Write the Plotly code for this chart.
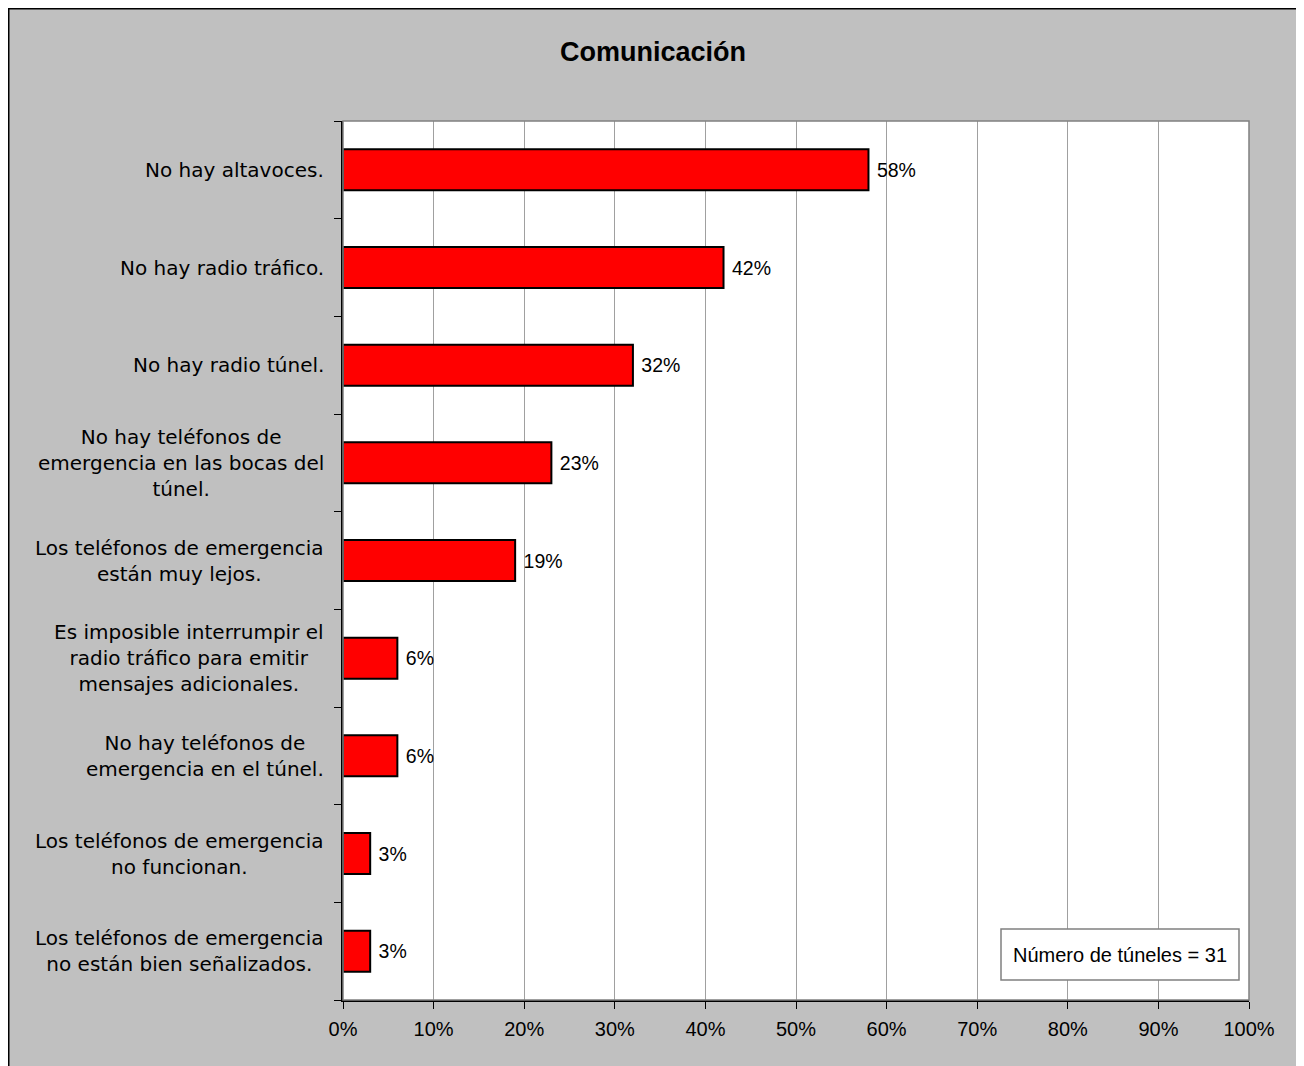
import plotly.graph_objects as go

categories = [
    "No hay altavoces.",
    "No hay radio tráfico.",
    "No hay radio túnel.",
    "No hay teléfonos de<br>emergencia en las bocas del<br>túnel.",
    "Los teléfonos de emergencia<br>están muy lejos.",
    "Es imposible interrumpir el<br>radio tráfico para emitir<br>mensajes adicionales.",
    "No hay teléfonos de<br>emergencia en el túnel.",
    "Los teléfonos de emergencia<br>no funcionan.",
    "Los teléfonos de emergencia<br>no están bien señalizados.",
]
values = [58, 42, 32, 23, 19, 6, 6, 3, 3]
x_ticks = [0, 10, 20, 30, 40, 50, 60, 70, 80, 90, 100]
x_tick_labels = [f"{v}%" for v in x_ticks]
note_text = "Número de túneles = 31"
title_text = "<b>Comunicación</b>"

# page body has an 8px margin; work in figure coordinates
OFF = 8
W, H = 1290, 1058
L, R, T, B = 343 - OFF, 1249 - OFF, 121 - OFF, 1000 - OFF
pw, ph = R - L, B - T

def px_x(p):
    return (p - OFF - L) / pw

def px_y(p):
    return (B - (p - OFF)) / ph

ids = [f"c{i}" for i in range(len(categories))]

ARIAL = "Liberation Sans, Arial"

fig = go.Figure()
fig.add_trace(go.Bar(
    y=ids, x=values, orientation="h",
    marker=dict(color="#FF0000", line=dict(color="#000000", width=2)),
    width=0.42,
    text=[f" {v}%" for v in values], textposition="outside",
    textfont=dict(family=ARIAL, size=19.5, color="#000000"),
    cliponaxis=False,
))

annotations = []
for cid, lab in zip(ids, categories):
    annotations.append(dict(
        x=0, xref="paper", y=cid, yref="y", text=lab, showarrow=False,
        xanchor="right", yanchor="middle", align="center", xshift=-17,
        font=dict(family="DejaVu Sans", size=20, color="#000000"),
    ))
annotations.append(dict(
    x=px_x(1120), xref="paper", y=px_y(954.5), yref="paper", text=note_text,
    showarrow=False, xanchor="center", yanchor="middle",
    font=dict(family=ARIAL, size=20, color="#000000"),
))

shapes = [
    dict(type="rect", xref="paper", yref="paper",
         x0=px_x(8.75), x1=px_x(1297.25), y0=px_y(1100), y1=px_y(8.75),
         line=dict(color="#000000", width=1.5), layer="below"),
    dict(type="rect", xref="paper", yref="paper",
         x0=0, x1=1, y0=0, y1=1,
         line=dict(color="#808080", width=1.5), fillcolor="rgba(0,0,0,0)"),
    dict(type="rect", xref="paper", yref="paper",
         x0=px_x(1001), x1=px_x(1239), y0=px_y(980), y1=px_y(929),
         line=dict(color="#808080", width=1.5), fillcolor="#FFFFFF"),
]

fig.update_layout(
    width=W, height=H,
    margin=dict(l=L, r=W - R, t=T, b=H - B, pad=0),
    paper_bgcolor="#C0C0C0", plot_bgcolor="#FFFFFF",
    showlegend=False,
    title=dict(text=title_text, x=(653 - OFF) / W, xref="container", xanchor="center",
               y=1 - (52 - OFF) / H, yref="container", yanchor="middle",
               font=dict(family=ARIAL, size=27, color="#000000")),
    xaxis=dict(range=[0, 100], tickvals=x_ticks, ticktext=x_tick_labels,
               showgrid=True, gridcolor="#A0A0A0", gridwidth=1,
               showline=True, linecolor="#000000", linewidth=1.5,
               ticks="outside", ticklen=7, tickcolor="#000000",
               tickfont=dict(family=ARIAL, size=20, color="#000000"),
               ticklabelstandoff=3,
               zeroline=False, fixedrange=True),
    yaxis=dict(type="category", categoryorder="array", categoryarray=ids[::-1],
               showticklabels=False, showgrid=False,
               showline=True, linecolor="#000000", linewidth=1.5,
               ticks="outside", ticklen=7, tickcolor="#000000", tickson="boundaries",
               zeroline=False, fixedrange=True),
    annotations=annotations,
    shapes=shapes,
    bargap=0.58,
)

fig.write_html("out.html")
